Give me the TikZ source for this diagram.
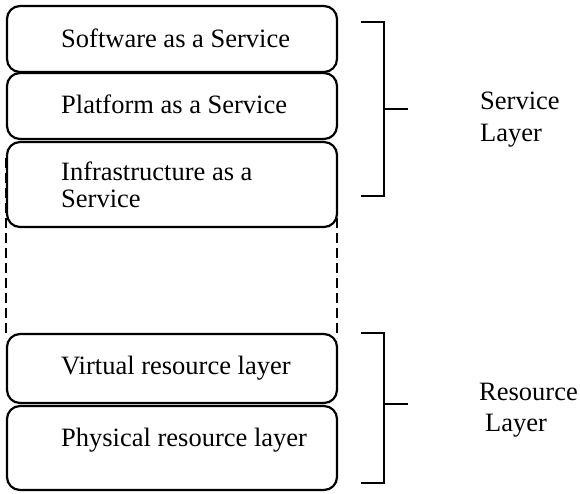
\documentclass[tikz,border=0pt]{standalone}
\usepackage{fontspec}
\setmainfont{Liberation Serif}
\begin{document}
\begin{tikzpicture}[x=1pt,y=-1pt,
  layerbox/.style={draw=black, line width=2.2pt, rounded corners=13pt, fill=white,
    minimum width=330pt, inner sep=0pt},
  boxtext/.style={anchor=base west, inner sep=0pt, font=\fontsize{26.5}{28}\selectfont},
  bracketline/.style={draw=black, line width=2pt},
  guide/.style={draw=black, line width=2pt, dash pattern=on 10pt off 5pt}]
\useasboundingbox (0,0) rectangle (580,493);

% dashed guides linking the service stack to the resource stack
\coordinate (gl1) at (5.5,158);
\coordinate (gl2) at (5.5,338);
\coordinate (gr1) at (337,158);
\coordinate (gr2) at (337,338);
\draw[guide] (gl1) -- (gl2);
\draw[guide] (gr1) -- (gr2);

% service stack
\node[layerbox, minimum height=66pt] (saas) at (172,39) {};
\node[layerbox, minimum height=66pt] (paas) at (172,106) {};
\node[layerbox, minimum height=85pt] (iaas) at (172,184.5) {};
\node[boxtext] (saast) at (61,47) {Software as a Service};
\node[boxtext] (paast) at (61,113) {Platform as a Service};
\node[boxtext] (iaast1) at (61,180) {Infrastructure as a};
\node[boxtext] (iaast2) at (61,207) {Service};

% resource stack
\node[layerbox, minimum height=69pt] (virt) at (172,368.5) {};
\node[layerbox, minimum height=84pt] (phys) at (172,448) {};
\node[boxtext] (virtt) at (61,374) {Virtual resource layer};
\node[boxtext] (physt) at (61,446) {Physical resource layer};

% service layer bracket
\coordinate (s1) at (361,22);
\coordinate (s2) at (384,22);
\coordinate (s3) at (384,196);
\coordinate (s4) at (361,196);
\coordinate (sm) at (384,109);
\coordinate (st) at (408,109);
\draw[bracketline] (s1) -- (s2) -- (s3) -- (s4);
\draw[bracketline] (sm) -- (st);
\node[boxtext] (svc1) at (480,109) {Service};
\node[boxtext] (svc2) at (480,141) {Layer};

% resource layer bracket
\coordinate (r1) at (361,333);
\coordinate (r2) at (384,333);
\coordinate (r3) at (384,483);
\coordinate (r4) at (361,483);
\coordinate (rm) at (384,404);
\coordinate (rt) at (408,404);
\draw[bracketline] (r1) -- (r2) -- (r3) -- (r4);
\draw[bracketline] (rm) -- (rt);
\node[boxtext] (res1) at (479,400) {Resource};
\node[boxtext] (res2) at (485,431) {Layer};
\end{tikzpicture}
\end{document}
